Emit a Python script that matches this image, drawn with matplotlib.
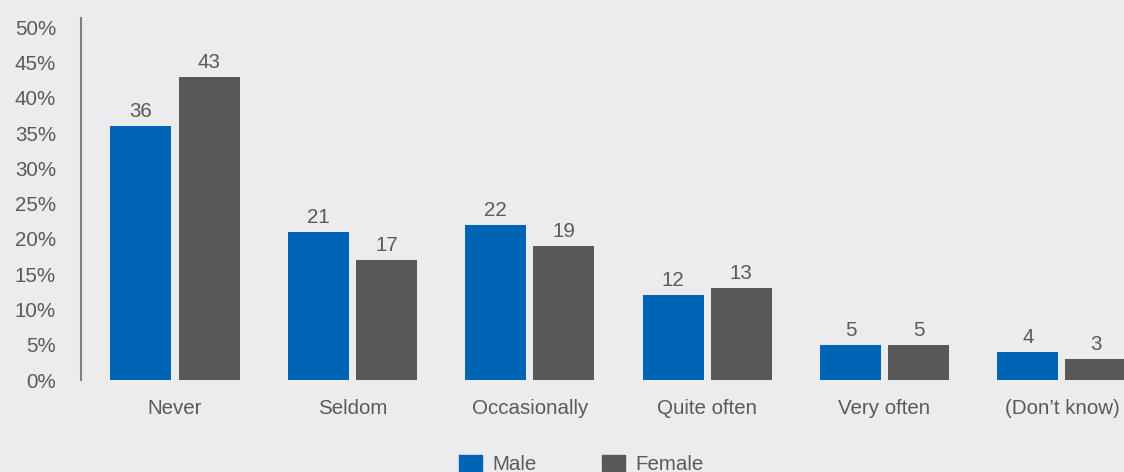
import matplotlib
matplotlib.use("Agg")
import matplotlib.pyplot as plt
import numpy as np
from matplotlib.patches import Patch

categories = ["Never", "Seldom", "Occasionally", "Quite often", "Very often", "(Don\u2019t know)"]
male = [36, 21, 22, 12, 5, 4]
female = [43, 17, 19, 13, 5, 3]
yticks = [0, 5, 10, 15, 20, 25, 30, 35, 40, 45, 50]
series_names = ["Male", "Female"]

BG = "#ececee"
BLUE = "#0064b4"
GRAY = "#58585a"
TXT = "#5a5a5c"
FS = 14.8

plt.rcParams['font.family'] = ['Liberation Sans', 'DejaVu Sans']

fig = plt.figure(figsize=(11.24, 4.72), dpi=100, facecolor=BG)
ax = fig.add_axes([81/1124, 92/472, 1043/1124, (380-18)/472])
ax.set_facecolor(BG)

x = np.arange(len(categories))
w = 0.344
off = 0.192
b1 = ax.bar(x - off, male, w, color=BLUE)
b2 = ax.bar(x + off, female, w, color=GRAY)

for bars, vals in ((b1, male), (b2, female)):
    for rect, v in zip(bars, vals):
        ax.annotate(str(v), (rect.get_x() + rect.get_width()/2, v),
                    xytext=(0, 3.5), textcoords="offset points",
                    ha="center", va="bottom", fontsize=FS, color=TXT)

ax.set_xlim(-0.53, 5.35)
ax.set_ylim(0, 51.3)
ax.set_yticks(yticks)
ax.set_yticklabels([f"{t}%" for t in yticks])
ax.set_xticks(x)
ax.set_xticklabels(categories)
ax.tick_params(axis="y", length=0, pad=18, labelsize=FS, labelcolor=TXT)
ax.tick_params(axis="x", length=0, pad=14, labelsize=FS, labelcolor=TXT)

for s in ("top", "right", "bottom"):
    ax.spines[s].set_visible(False)
ax.spines["left"].set_color("#808080")
ax.spines["left"].set_linewidth(1.5)

handles = [Patch(color=BLUE, label=series_names[0]), Patch(color=GRAY, label=series_names[1])]
leg = fig.legend(handles=handles, loc="center", bbox_to_anchor=(0.517, 0.016), ncol=2,
                 frameon=False, handlelength=1.1, handleheight=0.8,
                 handletextpad=0.5, columnspacing=3.2, prop={"size": FS})
for t in leg.get_texts():
    t.set_color(TXT)

fig.savefig("out.png", dpi=100, facecolor=BG)
